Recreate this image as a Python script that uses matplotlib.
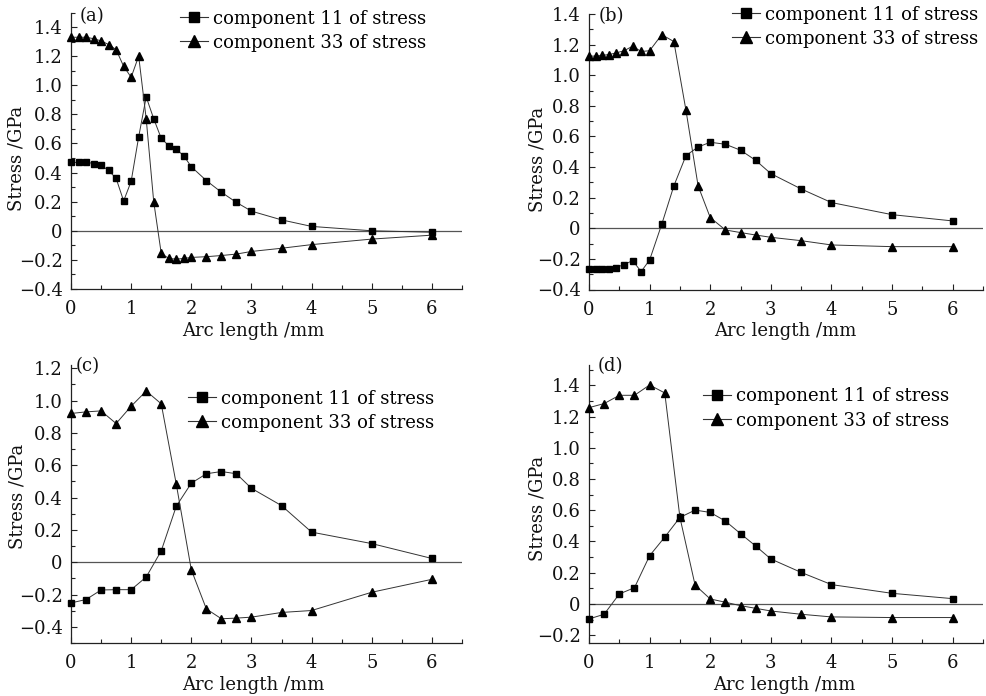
import matplotlib
matplotlib.use("Agg")
import matplotlib.pyplot as plt
from matplotlib.lines import Line2D
from matplotlib.ticker import MultipleLocator, FuncFormatter

# ---------------- data ----------------
x_a = [0, 0.125, 0.25, 0.375, 0.5, 0.625, 0.75, 0.875, 1.0, 1.125, 1.25, 1.375,
       1.5, 1.625, 1.75, 1.875, 2.0, 2.25, 2.5, 2.75, 3.0, 3.5, 4.0, 5.0, 6.0]
s11_a = [0.47, 0.47, 0.475, 0.46, 0.45, 0.415, 0.36, 0.205, 0.34, 0.645, 0.92, 0.77,
         0.635, 0.585, 0.56, 0.515, 0.44, 0.345, 0.265, 0.195, 0.135, 0.075, 0.03, 0.0, -0.01]
s33_a = [1.33, 1.33, 1.33, 1.32, 1.305, 1.28, 1.245, 1.13, 1.055, 1.2, 0.77, 0.2,
         -0.155, -0.19, -0.195, -0.19, -0.183, -0.178, -0.17, -0.16, -0.142, -0.12, -0.095, -0.057, -0.03]

x_b = [0, 0.11, 0.22, 0.33, 0.44, 0.58, 0.72, 0.86, 1.0, 1.2, 1.4, 1.6, 1.8, 2.0,
       2.25, 2.5, 2.75, 3.0, 3.5, 4.0, 5.0, 6.0]
s11_b = [-0.263, -0.263, -0.268, -0.268, -0.257, -0.237, -0.211, -0.283, -0.207, 0.026,
         0.277, 0.475, 0.531, 0.562, 0.549, 0.51, 0.444, 0.357, 0.257, 0.168, 0.089, 0.048]
s33_b = [1.125, 1.125, 1.13, 1.135, 1.145, 1.16, 1.19, 1.155, 1.16, 1.265, 1.22, 0.77,
         0.277, 0.07, -0.011, -0.028, -0.044, -0.059, -0.081, -0.109, -0.12, -0.12]

x_c = [0, 0.25, 0.5, 0.75, 1.0, 1.25, 1.5, 1.75, 2.0, 2.25, 2.5, 2.75, 3.0, 3.5, 4.0, 5.0, 6.0]
s11_c = [-0.252, -0.231, -0.172, -0.17, -0.17, -0.092, 0.07, 0.346, 0.489, 0.547,
         0.561, 0.547, 0.457, 0.35, 0.186, 0.115, 0.023]
s33_c = [0.92, 0.93, 0.936, 0.858, 0.965, 1.059, 0.98, 0.483, -0.047, -0.289,
         -0.35, -0.346, -0.34, -0.311, -0.299, -0.186, -0.106]

x_d = [0, 0.25, 0.5, 0.75, 1.0, 1.25, 1.5, 1.75, 2.0, 2.25, 2.5, 2.75, 3.0, 3.5, 4.0, 5.0, 6.0]
s11_d = [-0.096, -0.066, 0.064, 0.104, 0.309, 0.428, 0.554, 0.601, 0.586, 0.531,
         0.45, 0.371, 0.288, 0.202, 0.124, 0.068, 0.034]
s33_d = [1.257, 1.283, 1.336, 1.336, 1.402, 1.351, 0.554, 0.121, 0.032, 0.011,
         -0.011, -0.028, -0.045, -0.066, -0.083, -0.087, -0.087]

labels = ["component 11 of stress", "component 33 of stress"]
panel_tags = ["(a)", "(b)", "(c)", "(d)"]
xlabel = "Arc length /mm"
ylabel = "Stress /GPa"

# ---------------- style ----------------
plt.rcParams["font.family"] = ["DejaVu Serif"]
FS = 13
FSPX = FS * 100 / 72
W, H = 987, 696
fig = plt.figure(figsize=(W / 100, H / 100), dpi=100)
fig.patch.set_facecolor("white")

def px_axes(L, R, T, B):
    return fig.add_axes([L / W, 1 - B / H, (R - L) / W, (B - T) / H])

def yfmt(v, pos):
    if abs(v) < 1e-9:
        return "0"
    return f"{v:.1f}".replace("-", "\u2212")

def xfmt(v, pos):
    return f"{v:g}"

panels = [
    dict(box=(71, 462, 12.5, 289), ylim=(-0.4, 1.5), x=x_a, y11=s11_a, y33=s33_a,
         leg=(213, 9.5), tag=(80, 16), ylab=(26, 158), xlab=(253, 322)),
    dict(box=(589, 983, 14, 289.5), ylim=(-0.4, 1.4), x=x_b, y11=s11_b, y33=s33_b,
         leg=(765, 5.5), tag=(599, 16), ylab=(546, 159), xlab=(785, 322)),
    dict(box=(71, 462, 365, 643), ylim=(-0.5, 1.22), x=x_c, y11=s11_c, y33=s33_c,
         leg=(221, 389.5), tag=(76, 366), ylab=(27, 496), xlab=(253, 676)),
    dict(box=(589, 983, 365, 643), ylim=(-0.25, 1.53), x=x_d, y11=s11_d, y33=s33_d,
         leg=(736, 387.5), tag=(598, 366), ylab=(546, 508), xlab=(784, 676)),
]

HL, HTP = 1.5, 0.3
lc = "#333333"
for p, tag in zip(panels, panel_tags):
    L, R, T, B = p["box"]
    ax = px_axes(L, R, T, B)
    ax.set_facecolor("none")
    ax.set_xlim(0, 6.5)
    ax.set_ylim(*p["ylim"])
    for s in ("top", "right"):
        ax.spines[s].set_visible(False)
    for s in ("left", "bottom"):
        ax.spines[s].set_linewidth(0.9)
        ax.spines[s].set_color("#222222")
    ax.axhline(0, color="#555555", lw=0.9, zorder=1)
    ax.plot(p["x"], p["y11"], color=lc, lw=0.7, marker="s", ms=4.2,
            mfc="black", mec="black", clip_on=False, zorder=3)
    ax.plot(p["x"], p["y33"], color=lc, lw=0.7, marker="^", ms=5.4,
            mfc="black", mec="black", clip_on=False, zorder=3)
    ax.xaxis.set_major_locator(MultipleLocator(1))
    ax.xaxis.set_minor_locator(MultipleLocator(0.5))
    ax.yaxis.set_major_locator(MultipleLocator(0.2))
    ax.yaxis.set_minor_locator(MultipleLocator(0.1))
    ax.yaxis.set_major_formatter(FuncFormatter(yfmt))
    ax.xaxis.set_major_formatter(FuncFormatter(xfmt))
    ax.tick_params(which="both", direction="in", colors="#222222", labelsize=FS,
                   labelcolor="#111111")
    ax.tick_params(which="major", length=4, width=0.8)
    ax.tick_params(which="minor", length=3, width=0.8)
    ax.tick_params(axis="x", which="major", pad=8)
    ax.tick_params(axis="y", which="major", pad=6)
    ax.set_xlabel(xlabel, fontsize=FS, color="#111111")
    ax.set_ylabel(ylabel, fontsize=FS, color="#111111")
    yx, yy = p["ylab"]
    ax.yaxis.set_label_coords((yx - L) / (R - L), (B - yy) / (B - T))
    xx, xy = p["xlab"]
    ax.xaxis.set_label_coords((xx - L) / (R - L), (B - xy) / (B - T))

    # panel tag
    tx, ty = p["tag"]
    fig.text(tx / W, 1 - ty / H, tag, fontsize=FS, va="center", ha="left", color="#111111")

    # legend
    handles = [
        Line2D([], [], color=lc, lw=0.8, marker="s", ms=7, mfc="black", mec="black"),
        Line2D([], [], color=lc, lw=0.8, marker="^", ms=9, mfc="black", mec="black"),
    ]
    lx, ly = p["leg"]
    lx = lx - (HL + HTP) * FSPX
    fig.legend(handles, labels, loc="upper left",
               bbox_to_anchor=(lx / W, 1 - ly / H), bbox_transform=fig.transFigure,
               frameon=False, fontsize=FS, borderpad=0, borderaxespad=0,
               handlelength=HL, handletextpad=HTP, labelspacing=0.34)

fig.savefig("out.png", dpi=100, facecolor="white")
